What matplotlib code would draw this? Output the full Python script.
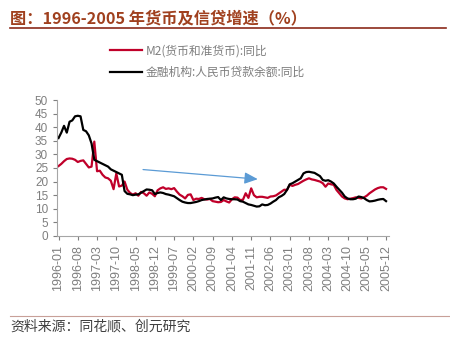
import matplotlib
matplotlib.use("Agg")
from matplotlib import pyplot as plt
import pandas as pd

plt.rcParams['font.family'] = ['Liberation Sans', 'Noto Sans CJK SC', 'DejaVu Sans']

# 月份
months = pd.date_range("1996-01", periods=120, freq="MS").strftime("%Y-%m").tolist()

# M2(货币和准货币):同比
m2 = [25.7, 26.5, 27.5, 28.3, 28.5, 28.4, 28.0, 27.2, 27.6, 27.8,
      26.5, 25.2, 25.5, 34.7, 23.8, 24.0, 22.5, 21.5, 21.2, 20.3,
      17.2, 23.0, 18.2, 18.5, 20.0, 17.0, 15.8, 15.2, 15.7, 14.8,
      16.2, 15.7, 14.8, 16.0, 15.5, 14.6, 16.8, 17.5, 17.9, 17.3,
      17.5, 17.2, 17.6, 16.3, 15.2, 14.6, 13.8, 15.1, 15.3, 13.2,
      13.7, 13.6, 14.0, 13.5, 13.4, 13.6, 12.8, 12.6, 12.4, 12.5,
      13.2, 12.7, 12.3, 13.5, 14.2, 14.1, 13.2, 13.3, 15.7, 14.0,
      17.5, 15.0, 14.2, 14.4, 14.4, 14.2, 14.0, 14.5, 14.6, 14.9,
      15.6, 16.3, 17.0, 16.9, 18.8, 18.4, 18.8, 19.1, 19.7, 20.3,
      20.8, 21.2, 20.8, 20.6, 20.3, 20.0, 19.4, 18.1, 19.3, 19.0,
      18.8, 16.9, 15.7, 14.5, 13.8, 13.5, 13.7, 13.9, 14.2, 14.0,
      13.8, 14.2, 14.8, 15.7, 16.4, 17.1, 17.6, 17.9, 17.9, 17.3]

# 金融机构:人民币贷款余额:同比
loan = [36.0, 38.0, 40.5, 38.0, 42.0, 42.5, 44.0, 44.2, 44.0, 39.0,
        38.5, 37.0, 34.0, 28.0, 27.5, 27.0, 26.5, 26.0, 25.5, 24.5,
        24.0, 23.5, 23.0, 22.5, 16.5, 15.5, 15.3, 15.0, 15.2, 15.3,
        15.9, 16.5, 17.1, 17.0, 16.8, 15.4, 15.8, 16.0, 15.8, 15.4,
        15.2, 14.9, 14.6, 13.9, 13.2, 12.6, 12.3, 12.1, 12.1, 12.3,
        12.5, 12.8, 13.2, 13.4, 13.6, 13.7, 13.8, 14.1, 14.3, 13.2,
        14.2, 13.8, 13.6, 13.5, 13.5, 13.4, 12.8, 12.6, 12.1, 11.6,
        11.4, 11.1, 10.8, 10.9, 11.6, 11.3, 11.4, 11.9, 12.6, 13.2,
        14.2, 14.7, 15.4, 16.9, 19.0, 19.4, 20.0, 20.6, 21.2, 23.0,
        23.5, 23.6, 23.4, 23.2, 22.6, 22.0, 20.6, 20.3, 20.5, 20.0,
        19.3, 18.1, 17.0, 15.9, 14.5, 13.8, 13.5, 13.5, 13.7, 14.5,
        14.3, 13.9, 13.2, 12.7, 12.8, 13.0, 13.3, 13.5, 13.6, 12.8]

grey = "#7f7f7f"
cjk = ["Noto Sans CJK SC", "DejaVu Sans"]
fig = plt.figure(figsize=(4.5, 3.39), dpi=100)

#标题
fig.text(0.022, 0.945, "图：1996-2005 年货币及信贷增速（%）", fontsize=11.7, fontweight="bold",
         color="#a0401e", family=cjk, va="center")
fig.add_artist(plt.Line2D([0.022, 0.99], [0.918, 0.918], color="#8b2a1a", lw=1.2))

ax = fig.add_axes([0.127, 0.304, 0.737, 0.401])
x = range(len(months))
l1, = ax.plot(x, m2, color="#c0002a", lw=1.6)
l2, = ax.plot(x, loan, color="black", lw=1.6)

#箭头
ax.annotate("", xy=(73.4, 20.8), xytext=(29.7, 24.5),
            arrowprops=dict(arrowstyle="-|>,head_length=0.8,head_width=0.35", color="#5b9bd5", lw=0.9))

ax.set_xlim(-0.5, 120)
ax.set_ylim(0, 50)
ax.set_yticks(range(0, 51, 5))
ax.set_xticks(list(x)[::7])
ax.set_xticklabels(months[::7], rotation=90)
ax.tick_params(colors=grey, labelcolor=grey, labelsize=8.5, length=3, width=0.8)
ax.tick_params(axis="x", labelsize=9)
for s in ["top", "right"]:
    ax.spines[s].set_visible(False)
for s in ["left", "bottom"]:
    ax.spines[s].set_color("#a6a6a6")

#图例
leg = fig.legend([l1, l2], ["M2(货币和准货币):同比", "金融机构:人民币贷款余额:同比"],
                 loc="upper left", bbox_to_anchor=(0.22, 0.9), frameon=False,
                 prop={"family": cjk, "size": 8.5},
                 labelcolor=grey, handlelength=2.7, labelspacing=0.7, handletextpad=0.35)

#资料来源
fig.add_artist(plt.Line2D([0.022, 1.0], [0.068, 0.068], color="#c8a098", lw=0.8))
fig.text(0.022, 0.038, "资料来源：同花顺、创元研究", fontsize=10, color="#404040",
         family=cjk, va="center")

plt.savefig("out.png", dpi=100)
